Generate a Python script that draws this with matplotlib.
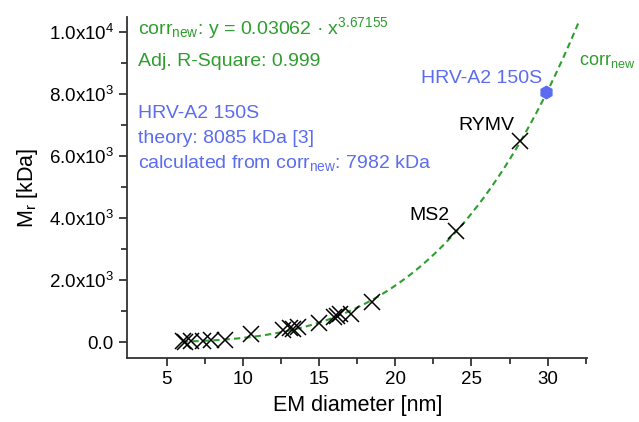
import numpy as np
import matplotlib.pyplot as plt

plt.rcParams['font.family'] = ['Liberation Sans', 'DejaVu Sans']
plt.rcParams['mathtext.fontset'] = 'custom'
plt.rcParams['mathtext.rm'] = 'Liberation Sans'
plt.rcParams['mathtext.it'] = 'Liberation Sans'
plt.rcParams['mathtext.default'] = 'regular'

# measured particles (EM diameter [nm], Mr [kDa])
diam = [6.05, 6.2, 6.6, 7.4, 7.9, 8.8, 10.5, 12.6, 13.1, 13.3, 13.6,
        15.0, 16.0, 16.2, 16.4, 17.1, 18.5, 24.0, 28.2]
mass = [30, 25, 35, 50, 60, 90, 260, 400, 450, 430, 480,
        640, 830, 860, 900, 920, 1310, 3600, 6480]

# HRV-A2 150S particle
hrv_diam = [29.9]
hrv_mass = [8085]

# fit corr_new: y = a * x^b
fit_a = 0.03062
fit_b = 3.67155
fit_range = [6.0, 32.0]

yticks = [0, 2000, 4000, 6000, 8000, 10000]
ytick_labels = ['0.0', '2.0x10$^{3}$', '4.0x10$^{3}$', '6.0x10$^{3}$',
                '8.0x10$^{3}$', '1.0x10$^{4}$']
xticks = [5, 10, 15, 20, 25, 30]

green = '#2e9e2e'
blue = '#5b6cf0'

fig = plt.figure(figsize=(6.39, 4.22), dpi=100)
ax = fig.add_axes([0.199, 0.152, 0.72, 0.808])

xf = np.linspace(fit_range[0], fit_range[1], 300)
ax.plot(xf, fit_a * xf ** fit_b, '--', color=green, lw=1.5, dashes=(3, 2))
ax.plot(diam, mass, 'x', color='black', ms=11, mew=1.1)
ax.plot(hrv_diam, hrv_mass, 'h', color=blue, ms=9)

ax.set_xlim(2.4, 32.6)
ax.set_ylim(-500, 10500)
ax.set_xticks(xticks)
ax.set_xticks([7.5, 12.5, 17.5, 22.5, 27.5, 32.5], minor=True)
ax.set_yticks(yticks)
ax.set_yticklabels(ytick_labels)
ax.set_yticks([1000, 3000, 5000, 7000, 9000], minor=True)

for s in ['top', 'right']:
    ax.spines[s].set_visible(False)
for s in ['left', 'bottom']:
    ax.spines[s].set_linewidth(1.3)
    ax.spines[s].set_color('#333333')
ax.tick_params(which='major', direction='out', length=6, width=1.3,
               labelsize=13.5, color='#333333')
ax.tick_params(which='minor', direction='out', length=4, width=1.3,
               color='#333333')

ax.set_xlabel('EM diameter [nm]', fontsize=15.5, labelpad=5)
ax.set_ylabel('M$_{r}$ [kDa]', fontsize=15.5, labelpad=6)

fs = 14
ax.text(0.024, 0.950, 'corr$_{new}$: y = 0.03062 \u00b7 x$^{3.67155}$',
        transform=ax.transAxes, color=green, fontsize=fs, va='baseline')
ax.text(0.024, 0.856, 'Adj. R-Square: 0.999', transform=ax.transAxes,
        color=green, fontsize=fs, va='baseline')
ax.text(0.024, 0.704, 'HRV-A2 150S', transform=ax.transAxes,
        color=blue, fontsize=fs, va='baseline')
ax.text(0.024, 0.630, 'theory: 8085 kDa [3]', transform=ax.transAxes,
        color=blue, fontsize=fs, va='baseline')
ax.text(0.024, 0.557, r'calculated from corr$_{new}$: 7982 kDa',
        transform=ax.transAxes, color=blue, fontsize=fs, va='baseline')

ax.annotate('HRV-A2 150S', (hrv_diam[0], hrv_mass[0]), xytext=(-3, 6.5),
            textcoords='offset points', ha='right', va='baseline',
            color=blue, fontsize=fs)
ax.annotate('RYMV', (diam[-1], mass[-1]), xytext=(-24.6, 8.4),
            textcoords='offset points', ha='center', va='baseline', fontsize=fs)
ax.annotate('MS2', (diam[-2], mass[-2]), xytext=(-19.2, 7.9),
            textcoords='offset points', ha='center', va='baseline', fontsize=fs)
ax.text(32.05, 8935, r'corr$_{new}$', color=green, fontsize=13, va='baseline')

fig.savefig('out.png', dpi=100)
